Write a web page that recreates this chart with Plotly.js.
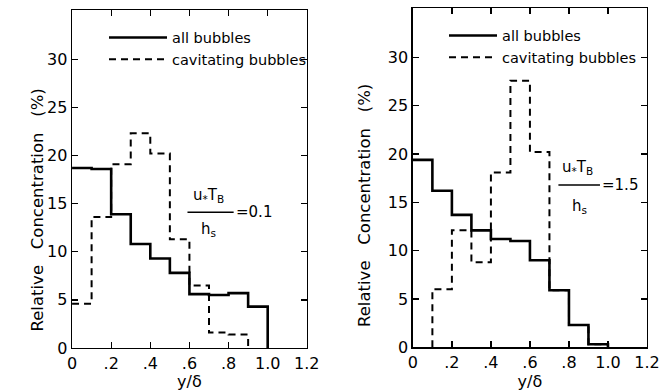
<!DOCTYPE html>
<html><head><meta charset="utf-8">
<script src="https://cdn.plot.ly/plotly-3.0.1.min.js"></script>
<style>html,body{margin:0;padding:0;background:#fff}</style>
</head><body><div id="chart" style="width:667px;height:391px"></div>
<script>
// bin edges of y/delta
const binEdges = [0, 0.1, 0.2, 0.3, 0.4, 0.5, 0.6, 0.7, 0.8, 0.9, 1.0];
// Panel 1: u*T_B/h_s = 0.1
const allBubblesA = [18.7, 18.6, 13.9, 10.8, 9.3, 7.8, 5.6, 5.5, 5.7, 4.3];   // bins 0..1.0
const cavBubblesA = [4.6, 13.6, 19.1, 22.3, 20.2, 11.3, 6.5, 1.6, 1.4];        // bins 0..0.9
const cavStartA = 0;
// Panel 2: u*T_B/h_s = 1.5
const allBubblesB = [19.4, 16.2, 13.7, 12.1, 11.2, 11.0, 9.0, 5.9, 2.3, 0.3]; // bins 0..1.0
const cavBubblesB = [6.0, 12.1, 8.8, 18.1, 27.6, 20.2, 5.9, 2.3, 0.3];        // bins 0.1..1.0
const cavStartB = 0.1;

const xTickVals = [0, 0.2, 0.4, 0.6, 0.8, 1.0, 1.2];
const xTickText = ['0', '.2', '.4', '.6', '.8', '1.0', '1.2'];
const yTickVals = [0, 5, 10, 15, 20, 25, 30];
const paramLabels = ['=0.1', '=1.5'];
const seriesNames = ['all bubbles', 'cavitating bubbles'];
const yTitle = 'Relative\u00a0\u00a0 Concentration\u00a0\u00a0 (%)';

function stepXY(start, values) {
  const i0 = binEdges.findIndex(e => Math.abs(e - start) < 1e-9);
  const xs = [], ys = [];
  if (start > 0) { xs.push(start); ys.push(0); }
  for (let i = 0; i < values.length; i++) { xs.push(binEdges[i0 + i]); ys.push(values[i]); }
  xs.push(binEdges[i0 + values.length]); ys.push(0);
  return {x: xs, y: ys};
}

const FONT = 'DejaVu Sans, Arial, sans-serif';
const traces = [];
[[allBubblesA, 0, cavBubblesA, cavStartA, 'x', 'y', 'legend'],
 [allBubblesB, 0, cavBubblesB, cavStartB, 'x2', 'y2', 'legend2']].forEach(p => {
  const s = stepXY(p[1], p[0]);
  const d = stepXY(p[3], p[2]);
  traces.push({x: d.x, y: d.y, xaxis: p[4], yaxis: p[5], legend: p[6], mode: 'lines', name: seriesNames[1],
    line: {shape: 'hv', color: '#000', width: 2, dash: '7px,5px'}});
  traces.push({x: s.x, y: s.y, xaxis: p[4], yaxis: p[5], legend: p[6], mode: 'lines', name: seriesNames[0],
    line: {shape: 'hv', color: '#000', width: 2.6}});
});

function xax(domain, anchor) {
  return {domain: domain, anchor: anchor, range: [0, 1.2], tickvals: xTickVals, ticktext: xTickText,
    ticks: 'inside', ticklen: 6, tickwidth: 1.3, tickcolor: '#000', showline: true, mirror: 'allticks',
    linewidth: 1.5, linecolor: '#000', showgrid: false, zeroline: false,
    tickfont: {family: FONT, size: 16, color: '#000'},
    title: {text: 'y/δ', font: {family: FONT, size: 16, color: '#000'}, standoff: 5}};
}
function yax(domain, anchor) {
  return {domain: domain, anchor: anchor, range: [0, 35.1], tickvals: yTickVals,
    ticks: 'inside', ticklen: 6, tickwidth: 1.3, tickcolor: '#000', showline: true, mirror: 'allticks',
    linewidth: 1.5, linecolor: '#000', showgrid: false, zeroline: false,
    tickfont: {family: FONT, size: 16, color: '#000'}};
}

const annFont = {family: FONT, size: 15, color: '#000'};
function fraction(xr, yr, xl0, xl1, yl, xn, yn, xd, yd, label) {
  return {
    shapes: [{type: 'line', xref: xr, yref: yr, x0: xl0, x1: xl1, y0: yl, y1: yl, line: {color: '#000', width: 1.5}}],
    annotations: [
      {xref: xr, yref: yr, x: xn, y: yn, text: 'u<sub>*</sub>T<sub>B</sub>', showarrow: false, font: annFont},
      {xref: xr, yref: yr, x: xd, y: yd, text: 'h<sub>s</sub>', showarrow: false, font: annFont},
      {xref: xr, yref: yr, x: xl1, y: yl, xanchor: 'left', text: label, showarrow: false, font: annFont}
    ]};
}
const fA = fraction('x', 'y', 0.59, 0.826, 14.1, 0.70, 15.8, 0.70, 12.3, paramLabels[0]);
const fB = fraction('x2', 'y2', 0.746, 0.959, 16.8, 0.845, 18.6, 0.855, 14.6, paramLabels[1]);

const yTitleFont = {family: FONT, size: 16.5, color: '#000'};
const yTitles = [
  {xref: 'paper', yref: 'paper', x: 25 / 667, y: 1 - 210 / 391, text: yTitle, textangle: -90, showarrow: false, font: yTitleFont},
  {xref: 'paper', yref: 'paper', x: 365 / 667, y: 1 - 206 / 391, text: yTitle, textangle: -90, showarrow: false, font: yTitleFont}
];

const legendBase = {font: {family: FONT, size: 14.5, color: '#000'}, bgcolor: 'rgba(0,0,0,0)',
  traceorder: 'reversed', yanchor: 'top', xanchor: 'left', tracegroupgap: 0};

const layout = {
  width: 667, height: 391, margin: {l: 0, r: 0, t: 0, b: 0},
  paper_bgcolor: '#fff', plot_bgcolor: '#fff', showlegend: true,
  xaxis: xax([0.108, 0.460], 'y'), yaxis: yax([0.110, 0.974], 'x'),
  xaxis2: xax([0.619, 0.970], 'y2'), yaxis2: yax([0.112, 0.979], 'x2'),
  legend: Object.assign({x: 104 / 667, y: 0.945, itemwidth: 58}, legendBase),
  legend2: Object.assign({x: 444 / 667, y: 0.950, itemwidth: 48}, legendBase),
  shapes: fA.shapes.concat(fB.shapes),
  annotations: fA.annotations.concat(fB.annotations, yTitles)
};

Plotly.newPlot('chart', traces, layout, {displayModeBar: false, staticPlot: true});
</script></body></html>
